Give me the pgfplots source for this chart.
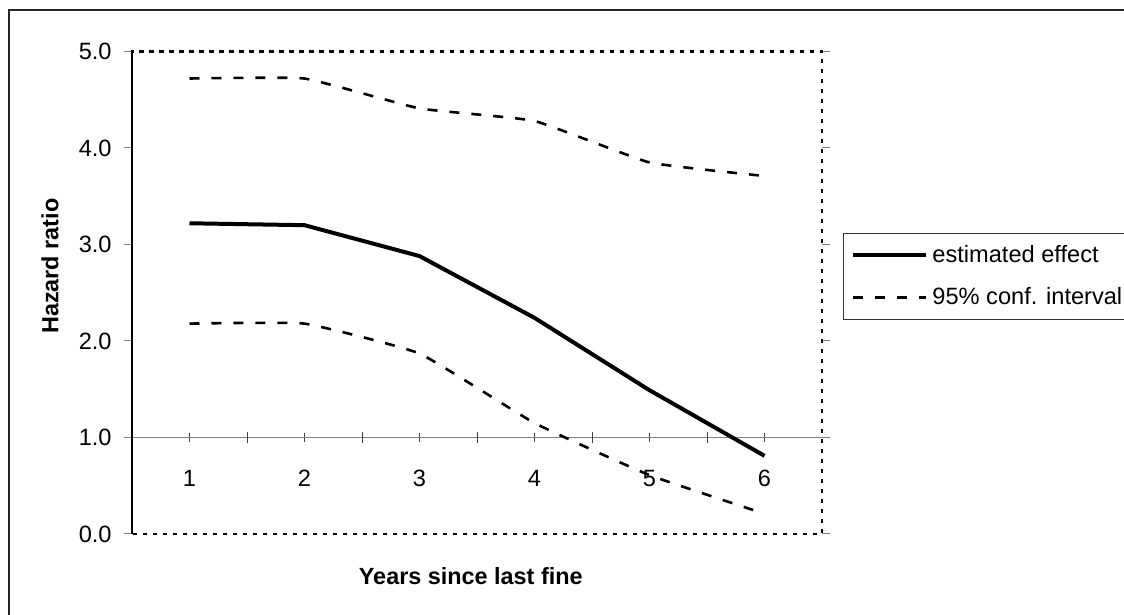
\documentclass[border=0pt]{standalone}
\usepackage{fontspec}
\setmainfont{Liberation Sans}
\usepackage{pgfplots}
\pgfplotsset{compat=1.18}
\begin{document}
\begin{tikzpicture}
\useasboundingbox (-66pt,-40.5pt) rectangle (496pt,267pt);
\draw[line width=0.6pt, black!85] (-61.5pt,-45pt) -- (-61.5pt,262pt) -- (500pt,262pt);
% x axis crossing at 1.0
\begin{axis}[
  at={(0,48.25pt)}, anchor=south west, scale only axis,
  width=345pt, height=193pt,
  xmin=0.5, xmax=6.5, ymin=1, ymax=5,
  axis x line*=bottom, axis y line=none,
  x axis line style={gray, line width=0.8pt, -},
  xtick={1,2,3,4,5,6},
  tick align=center, major tick length=4.5pt,
  x tick style={black!75, line width=0.4pt},
  extra x ticks={1.5,2.5,3.5,4.5,5.5},
  extra x tick labels={},
  extra x tick style={major tick length=5.5pt},
  xticklabel style={font=\fontsize{11.8}{13}\selectfont, anchor=north, inner sep=0pt, yshift=-14pt},
  /pgf/number format/assume math mode=true,
]
\end{axis}
\begin{axis}[
  at={(0,0)}, anchor=south west, scale only axis,
  width=345pt, height=241.25pt,
  xmin=0.5, xmax=6.5, ymin=0, ymax=5,
  clip=false,
  axis line style={draw=none},
  xtick=\empty,
  ytick={0,1,2,3,4,5},
  tick align=outside, major tick length=4pt,
  y tick style={gray, line width=0.5pt},
  yticklabel style={font=\fontsize{11.8}{13}\selectfont, anchor=east, inner sep=0pt, xshift=-6pt,
    /pgf/number format/.cd, fixed, fixed zerofill, precision=1},
  /pgf/number format/assume math mode=true,
  ylabel={\bfseries Hazard ratio},
  ylabel style={font=\fontsize{11.7}{14}\selectfont, at={(axis description cs:-0.1188,0.555)}, anchor=center},
  xlabel={\bfseries Years since last fine},
  xlabel style={font=\fontsize{11.7}{14}\selectfont, at={(axis description cs:0.491,0)}, anchor=center, yshift=-21pt},
  legend style={at={(axis description cs:1.0304,0.6245)}, anchor=north west,
    draw=black!80, line width=0.5pt, font=\fontsize{11.8}{13}\selectfont,
    inner xsep=4pt, inner ysep=4pt, row sep=7pt, cells={anchor=west}},
  legend image code/.code={\draw[#1] (0pt,0pt) -- (36.5pt,0pt);},
]
\draw[line width=0.6pt] (rel axis cs:0,0) -- (rel axis cs:0,1);
\draw[line width=1.4pt, dash pattern=on 2.2pt off 2.8pt] (rel axis cs:0,0) -- (rel axis cs:0,1) -- (rel axis cs:1,1) -- (rel axis cs:1,0) -- (rel axis cs:0,0);
\addplot[black, line width=2pt] coordinates {(1,3.22) (2,3.20) (3,2.88) (4,2.24) (5,1.49) (6,0.81)};
\addlegendentry{estimated effect}
\addplot[black, line width=1.3pt, dash pattern=on 5pt off 6pt, smooth, tension=0.22] coordinates {(1,4.72) (2,4.72) (3,4.41) (4,4.28) (5,3.85) (6,3.71)};
\addlegendentry{95\% conf. interval}
\addplot[black, line width=1.3pt, dash pattern=on 5pt off 6pt, smooth, tension=0.22, forget plot] coordinates {(1,2.18) (2,2.18) (3,1.87) (4,1.15) (5,0.61) (6,0.21)};
\end{axis}
\end{tikzpicture}
\end{document}
